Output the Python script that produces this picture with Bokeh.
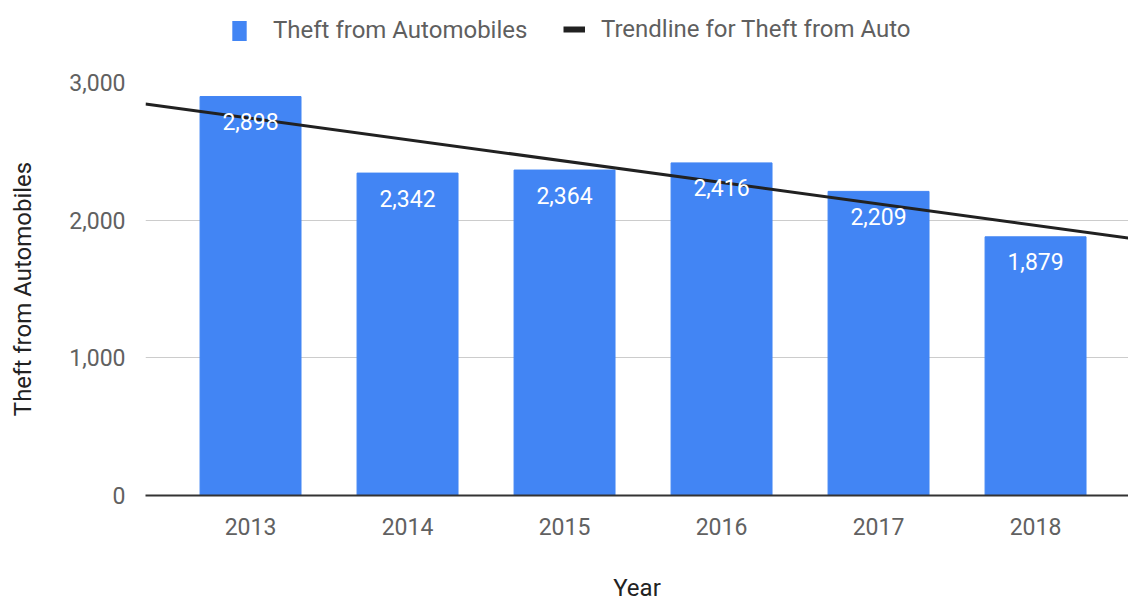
import numpy as np
from bokeh.plotting import figure
from bokeh.layouts import column
from bokeh.models import (ColumnDataSource, Range1d, FixedTicker, LabelSet,
                          Legend, LegendItem, NumeralTickFormatter)
from bokeh.core.properties import value
from bokeh.embed import file_html
from bokeh.resources import INLINE

years = [2013, 2014, 2015, 2016, 2017, 2018]
thefts = [2898, 2342, 2364, 2416, 2209, 1879]
labels = ["2,898", "2,342", "2,364", "2,416", "2,209", "1,879"]
y_ticks = [0, 1000, 2000, 3000]
series_name = "Theft from Automobiles"
trend_name = "Trendline for Theft from Auto"

FONT = "Roboto"
BLUE = "#4285f4"
TREND = "#212121"

# ---------- legend strip (frame aligned with the chart below) ----------
leg = figure(width=1128, height=56, output_backend="svg", toolbar_location=None,
             x_range=Range1d(0, 1), y_range=Range1d(0, 1),
             x_axis_type=None, y_axis_type=None,
             min_border_left=145, min_border_right=0, min_border_top=0,
             min_border_bottom=0)
leg.outline_line_color = None
leg.border_fill_color = "white"
leg.background_fill_color = "white"
# legend swatches: zero-size marks, only their styles are used by the legend
dummy_bar = leg.vbar(x=[0.5], top=[0.5], bottom=[0.5], width=0.0,
                     fill_color=BLUE, line_color=None)
dummy_line = leg.line(x=[0.5, 0.5], y=[0.5, 0.5], line_color=TREND,
                      line_width=6)

common = dict(orientation="horizontal", label_text_font=FONT,
              label_text_font_size="24px", label_text_color="#5f5f5f",
              padding=0, margin=0, border_line_color=None,
              background_fill_alpha=0, label_height=20)
leg1 = Legend(items=[LegendItem(label=series_name, renderers=[dummy_bar])],
              location=(85, 12), glyph_width=18, glyph_height=25,
              label_standoff=25, **common)
leg2 = Legend(items=[LegendItem(label=trend_name, renderers=[dummy_line])],
              location=(418, 13), glyph_width=22, glyph_height=20,
              label_standoff=16, **common)
leg.add_layout(leg1, "center")
leg.add_layout(leg2, "center")

# ---------- main chart ----------
x_start, x_end = 2012.331, 2018.592
p = figure(width=1128, height=548, output_backend="svg", toolbar_location=None,
           x_range=Range1d(x_start, x_end), y_range=Range1d(0, 3000),
           min_border_left=145, min_border_right=0, min_border_top=26,
           min_border_bottom=104)
p.outline_line_color = None

src = ColumnDataSource(dict(x=years, y=thefts, lab=labels))
p.vbar(x="x", top="y", width=0.643, source=src, color=BLUE)

# linear least-squares trendline of the data
slope, icpt = np.polyfit(years, thefts, 1)
tx = [x_start, x_end]
ty = [slope * v + icpt for v in tx]
p.line(tx, ty, line_color=TREND, line_width=3)

lbls = LabelSet(x="x", y="y", text="lab", source=src, y_offset=-25,
                text_align="center", text_baseline="middle",
                text_color="white", text_font=value(FONT),
                text_font_size="23px")
p.add_layout(lbls)

p.xaxis.ticker = FixedTicker(ticks=years)
p.yaxis.ticker = FixedTicker(ticks=y_ticks)
p.yaxis.formatter = NumeralTickFormatter(format="0,0")
for ax in (p.xaxis[0], p.yaxis[0]):
    ax.major_tick_line_color = None
    ax.minor_tick_line_color = None
    ax.major_label_text_font = FONT
    ax.major_label_text_font_size = "23px"
    ax.major_label_text_color = "#616161"
    ax.axis_label_text_font = FONT
    ax.axis_label_text_font_size = "24px"
    ax.axis_label_text_font_style = "normal"
    ax.axis_label_text_color = "#222222"
p.yaxis.axis_line_color = None
p.xaxis.axis_line_color = "#333333"
p.xaxis.axis_line_width = 2
p.xaxis.major_label_standoff = 16
p.yaxis.major_label_standoff = 14
p.xaxis.axis_label = "Year"
p.yaxis.axis_label = series_name
p.xaxis.axis_label_standoff = 36
p.yaxis.axis_label_standoff = 29

p.xgrid.grid_line_color = None
p.ygrid.ticker = FixedTicker(ticks=y_ticks)
p.ygrid.grid_line_color = "#cccccc"
p.ygrid.grid_line_width = 1

layout = column(leg, p, spacing=0)
open("out.html", "w").write(file_html(layout, INLINE))
